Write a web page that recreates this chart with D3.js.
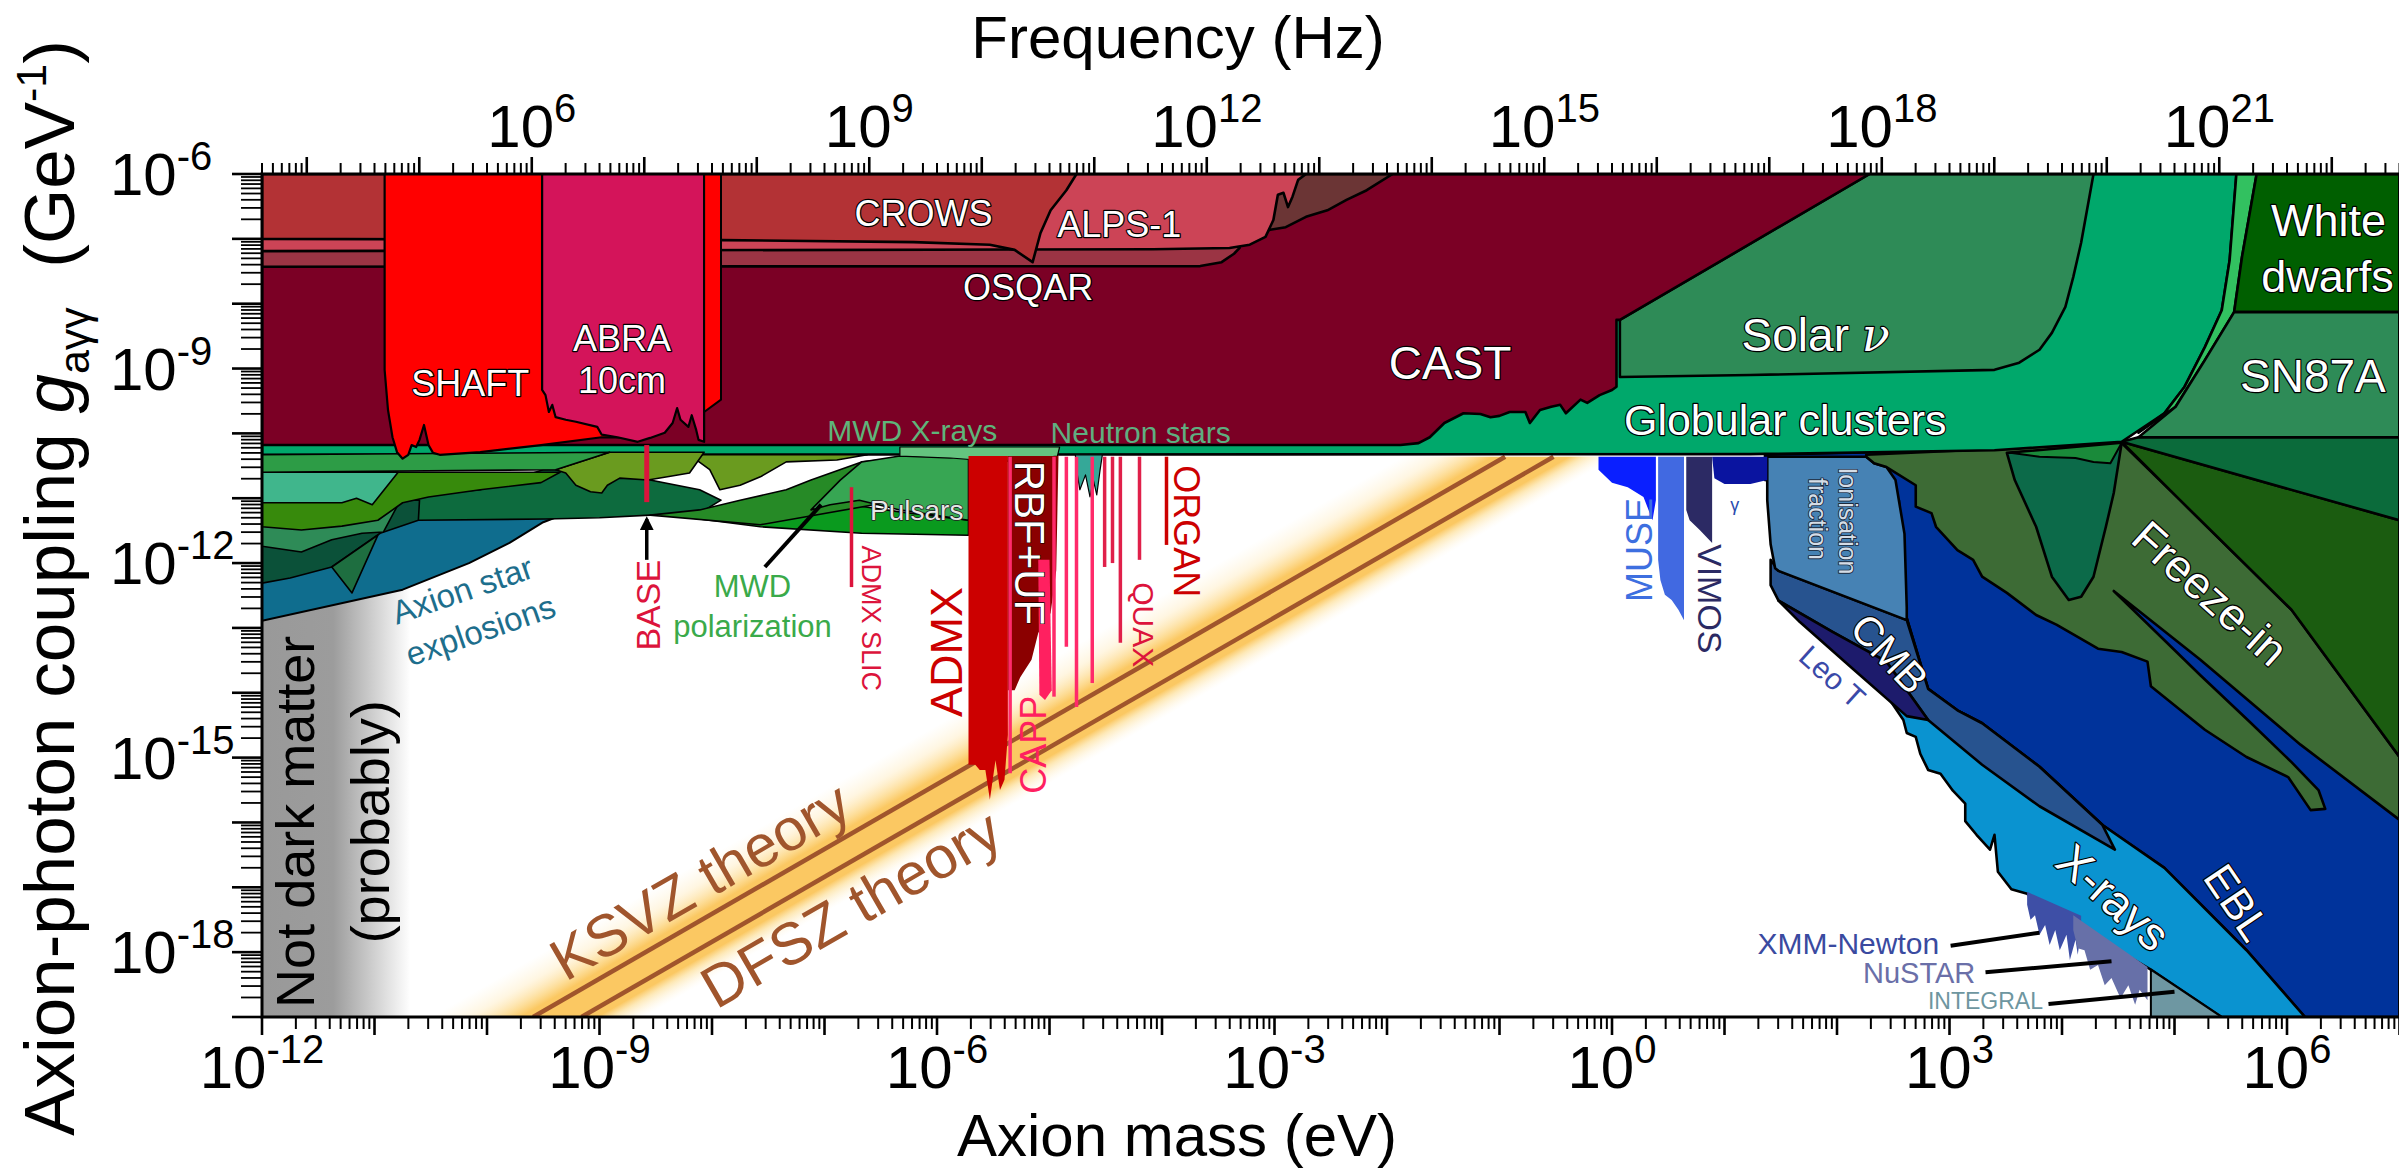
<!DOCTYPE html>
<html><head><meta charset="utf-8">
<script src="https://cdn.jsdelivr.net/npm/d3@7"></script>
<style>
html,body{margin:0;padding:0;background:#fff;}
svg{display:block;}
text{font-family:"Liberation Sans",Arial,Helvetica,sans-serif;}
</style></head><body>
<svg id="chart" width="2399" height="1170"></svg>
<script>
// ===================== DATA =====================
// every vertex is [log10(mass / eV), log10(g_agg / GeV^-1)]
const massDomain = [1e-12, 1e7];
const couplingDomain = [1e-19, 1e-6];
const HZ_PER_EV = 4.0e15;
const massTickLabels = [-12, -9, -6, -3, 0, 3, 6];
const couplingTickLabels = [-6, -9, -12, -15, -18];
const freqTickLabels = [6, 9, 12, 15, 18, 21];

// light-shining-through-wall / helioscopes / haloscopes at the top
const CAST = [[-12,-6],[2.29,-6],[0.07,-8.25],[0.04,-8.25],[0.04,-9.28],[0,-9.33],[-0.11,-9.41],[-0.22,-9.53],[-0.28,-9.48],[-0.41,-9.69],[-0.46,-9.56],[-0.54,-9.59],[-0.64,-9.64],[-0.73,-9.84],[-0.77,-9.67],[-0.91,-9.67],[-1.00,-9.73],[-1.08,-9.75],[-1.17,-9.70],[-1.32,-9.69],[-1.49,-9.84],[-1.62,-10.06],[-1.72,-10.15],[-1.88,-10.18],[-12,-10.18]];
const OSQAR = [[-12,-6],[-12,-7.43],[-3.66,-7.42],[-3.47,-7.36],[-3.36,-7.23],[-3.31,-7.14],[-3.31,-6]];
const TOKYO = [[-3.31,-6],[-3.31,-7.02],[-3.04,-6.86],[-2.90,-6.82],[-2.72,-6.66],[-2.53,-6.56],[-2.36,-6.40],[-2.18,-6.25],[-1.95,-6]];
const ALPS1 = [[-12,-6],[-12,-7.19],[-4.08,-7.16],[-3.40,-7.14],[-3.22,-7.09],[-3.08,-6.97],[-3.01,-6.71],[-2.97,-6.32],[-2.92,-6.29],[-2.88,-6.51],[-2.84,-6.35],[-2.79,-6.09],[-2.72,-6]];
const CROWS = [[-12,-6],[-12,-7.00],[-7.91,-7.02],[-6.21,-7.05],[-5.53,-7.09],[-5.31,-7.17],[-5.15,-7.36],[-5.08,-6.91],[-4.99,-6.56],[-4.85,-6.25],[-4.76,-6]];
const SHAFT = [[-10.91,-6],[-10.91,-9.02],[-10.88,-9.64],[-10.84,-10.06],[-10.80,-10.29],[-10.75,-10.39],[-10.70,-10.33],[-10.67,-10.18],[-10.63,-10.21],[-10.60,-10.10],[-10.56,-9.87],[-10.52,-10.18],[-10.48,-10.30],[-10.42,-10.33],[-10.06,-10.29],[-9.52,-10.18],[-8.98,-10.06],[-8.82,-10.06],[-8.82,-6]];
const ABRA = [[-9.51,-6],[-9.51,-9.33],[-9.48,-9.41],[-9.45,-9.67],[-9.42,-9.56],[-9.39,-9.75],[-9.30,-9.79],[-9.21,-9.82],[-9.02,-9.90],[-8.98,-10.02],[-8.84,-10.06],[-8.66,-10.13],[-8.55,-10.07],[-8.42,-9.99],[-8.35,-9.84],[-8.31,-9.61],[-8.28,-9.79],[-8.21,-9.90],[-8.18,-9.72],[-8.14,-9.95],[-8.12,-10.10],[-8.07,-10.13],[-8.07,-6]];
const RED_STRIP = [[-8.07,-6],[-7.92,-6],[-7.92,-9.48],[-8.07,-9.67]];
const ADMX = [[-5.72,-10.35],[-5.37,-10.35],[-5.37,-14.65],[-5.40,-15.34],[-5.44,-15.50],[-5.48,-15.04],[-5.53,-15.65],[-5.57,-15.19],[-5.62,-15.19],[-5.66,-15.11],[-5.72,-15.11]];
const RBF_UF = [[-5.37,-10.35],[-4.92,-10.35],[-4.94,-12.11],[-4.99,-12.77],[-5.10,-13.08],[-5.16,-13.49],[-5.26,-13.76],[-5.31,-13.96],[-5.37,-13.96]];
const CAPP = [[-5.10,-11.95],[-5.00,-11.95],[-4.98,-13.96],[-5.04,-14.11],[-5.09,-14.03]];
// thin haloscope exclusions: [log m, log g top, log g bottom]
const haloLinesPink = [[-5.35,-10.36,-15.24],[-4.96,-10.36,-14.06],[-4.85,-10.36,-13.29],[-4.76,-10.36,-14.22],[-4.62,-10.36,-13.85]];
const haloLinesRed = [[-4.51,-10.36,-12.06],[-4.44,-10.36,-12.00],[-4.37,-10.36,-13.23],[-4.20,-10.36,-11.95],[-3.96,-10.36,-11.72]];
const baseLine = [[-8.58,-10.18],[-8.58,-11.06]];
const slicLine = [[-6.76,-10.83],[-6.76,-12.37]];

// astrophysics, top
const GC = [[-12,-6],[5.55,-6],[5.49,-7.33],[5.42,-8.10],[5.27,-8.67],[5.09,-9.28],[4.91,-9.69],[4.65,-9.99],[4.53,-10.13],[3.40,-10.26],[1.23,-10.32],[-12,-10.33]];
const SOLAR_NU = [[0.07,-8.25],[2.29,-6],[4.28,-6],[4.17,-7.06],[4.10,-7.59],[4.03,-8.05],[3.91,-8.45],[3.80,-8.71],[3.62,-8.91],[3.40,-9.02],[1.23,-9.10],[0.07,-9.13]];
const HB_STRIP = [[5.55,-6],[5.73,-6],[5.60,-7.28],[5.53,-8.13],[5.27,-8.87],[5.01,-9.59],[4.68,-9.99],[4.91,-9.69],[5.09,-9.28],[5.27,-8.67],[5.42,-8.10],[5.49,-7.33]];
const WHITE_DWARFS = [[5.73,-6],[7,-6],[7,-8.13],[5.53,-8.13],[5.60,-7.28]];
const SN87A = [[5.53,-8.13],[7,-8.13],[7,-10.06],[4.68,-10.06],[5.01,-9.59],[5.27,-8.87]];

// low-mass astrophysical bounds under the globular-cluster line
const AXION_STAR = [[-12,-11.03],[-9.26,-11.03],[-9.26,-11.21],[-9.50,-11.37],[-9.80,-11.69],[-10.16,-12.00],[-10.75,-12.41],[-12,-12.89]];
const PULSARS = [[-8.25,-11.29],[-7.57,-11.44],[-6.67,-11.54],[-5.72,-11.57],[-5.72,-11.34],[-6.33,-11.21],[-6.77,-11.10],[-7.22,-11.10],[-7.66,-11.21],[-8.11,-11.24]];
const LM_BLOB = [[-10.77,-10.98],[-10.06,-10.87],[-9.50,-10.56],[-9.00,-10.56],[-8.55,-10.72],[-8.11,-10.87],[-7.92,-11.03],[-8.11,-11.23],[-8.55,-11.26],[-9.00,-11.30],[-9.48,-11.32],[-10.61,-11.34]];
const LM_FOREST = [[-8.55,-11.26],[-8.11,-11.18],[-7.75,-11.03],[-7.34,-10.87],[-7.12,-10.72],[-6.67,-10.44],[-6.33,-10.38],[-6.33,-11.03],[-7.57,-11.41]];
const MWD_POL = [[-6.67,-10.44],[-6.33,-10.35],[-5.72,-10.35],[-5.72,-11.34],[-6.33,-11.18],[-6.69,-11.03],[-6.95,-11.10],[-7.12,-11.18],[-6.86,-10.72]];
const LM_DARK = [[-12,-11.03],[-10.60,-11.03],[-10.61,-11.34],[-10.95,-11.54],[-11.38,-12.06],[-11.75,-12.23],[-12,-12.31]];
const LM_WEDGE = [[-11.38,-12.06],[-11.20,-12.46],[-10.97,-11.57]];
const LM_SEA = [[-12,-11.03],[-10.77,-11.03],[-10.92,-11.52],[-11.11,-11.54],[-11.38,-11.64],[-11.65,-11.83],[-12,-11.74]];
const LM_GREEN = [[-12,-10.60],[-9.35,-10.60],[-9.52,-10.76],[-10.06,-10.87],[-10.52,-10.98],[-10.75,-11.07],[-10.97,-11.34],[-11.29,-11.43],[-11.65,-11.49],[-12,-11.44]];
const LM_TEAL = [[-12,-10.60],[-10.79,-10.60],[-11.02,-11.10],[-11.16,-11.00],[-11.29,-11.07],[-12,-11.07]];
const OLIVE_B = [[-8.20,-10.33],[-8.02,-10.56],[-7.93,-10.87],[-7.75,-10.80],[-7.57,-10.67],[-7.34,-10.44],[-6.89,-10.41],[-6.62,-10.33]];
const OLIVE_A = [[-9.39,-10.56],[-9.30,-10.61],[-9.21,-10.80],[-9.08,-10.90],[-8.98,-10.92],[-8.93,-10.80],[-8.82,-10.69],[-8.57,-10.72],[-8.37,-10.66],[-8.20,-10.61],[-8.07,-10.29],[-8.91,-10.29]];
const LM_BAND = [[-12,-10.33],[-8.91,-10.29],[-9.39,-10.56],[-12,-10.60]];
const MWD_XRAY = [[-6.33,-10.21],[-4.91,-10.21],[-4.93,-10.35],[-5.44,-10.44],[-5.88,-10.38],[-6.33,-10.35]];
const NEUTRON_STARS = [[-4.77,-10.33],[-4.53,-10.33],[-4.55,-10.56],[-4.58,-10.95],[-4.61,-10.72],[-4.64,-10.98],[-4.68,-10.64],[-4.73,-10.87],[-4.76,-10.56]];

// telescopes and cosmology, right side
const EBL = [[1.36,-10.33],[7,-10.10],[7,-19],[6.16,-19],[5.64,-17.97],[4.91,-16.70],[4.36,-16.04],[3.80,-15.14],[3.29,-14.47],[3.07,-14.27],[2.81,-13.94],[2.62,-12.85],[2.55,-11.03],[1.36,-10.72]];
const XRAYS = [[2.62,-12.85],[2.81,-13.94],[3.07,-14.27],[3.29,-14.47],[3.80,-15.14],[4.36,-16.04],[4.91,-16.70],[5.64,-17.97],[6.16,-19],[5.42,-19],[4.79,-18.27],[4.34,-17.81],[3.98,-17.43],[3.69,-17.10],[3.55,-17.03],[3.43,-16.76],[3.40,-16.19],[3.36,-16.42],[3.24,-16.19],[3.14,-15.98],[3.14,-15.71],[3.03,-15.51],[2.92,-15.25],[2.81,-15.19],[2.74,-14.94],[2.70,-14.68],[2.62,-14.62],[2.59,-14.42],[2.47,-14.11]];
const XMM = [[3.69,-17.07],[4.17,-17.44],[4.17,-17.66],[4.14,-18.04],[4.12,-17.81],[4.07,-18.12],[4.04,-17.73],[3.98,-17.97],[3.94,-17.66],[3.89,-17.89],[3.85,-17.58],[3.80,-17.73],[3.76,-17.43],[3.72,-17.50],[3.69,-17.27]];
const NUSTAR = [[4.10,-17.43],[4.76,-18.23],[4.76,-18.74],[4.69,-18.58],[4.65,-18.81],[4.59,-18.51],[4.52,-18.71],[4.44,-18.40],[4.38,-18.51],[4.32,-18.20],[4.25,-18.27],[4.20,-17.97],[4.14,-17.94],[4.10,-17.66]];
const INTEGRAL = [[4.79,-18.27],[5.42,-19],[4.79,-19]];
const CMB = [[1.41,-11.95],[1.48,-12.12],[2.62,-12.88],[2.81,-13.94],[3.07,-14.27],[3.29,-14.47],[3.80,-15.14],[4.36,-16.04],[4.47,-16.42],[3.80,-15.75],[3.29,-15.11],[2.81,-14.42],[2.44,-13.52],[1.96,-13.06],[1.48,-12.58],[1.41,-12.34]];
const LEO_T = [[1.48,-12.58],[1.96,-13.06],[2.44,-13.52],[2.81,-14.42],[2.62,-14.36],[2.14,-13.63],[1.67,-12.91]];
const IONISATION = [[1.38,-10.36],[2.26,-10.36],[2.33,-10.46],[2.44,-10.52],[2.52,-10.72],[2.55,-11.03],[2.60,-11.55],[2.62,-12.69],[2.62,-12.88],[1.48,-12.12],[1.45,-12.08],[1.41,-11.71],[1.38,-11.03]];
const TELESCOPE_BLUE = [[0.89,-10.36],[1.38,-10.36],[1.38,-10.72],[1.23,-10.78],[1.00,-10.78],[0.91,-10.69]];
const MUSE = [[-0.12,-10.36],[0.39,-10.36],[0.39,-11.03],[0.36,-11.34],[0.28,-10.98],[0.14,-10.83],[0,-10.76],[-0.12,-10.56]];
const MUSE_FAINT = [[0.41,-10.36],[0.64,-10.36],[0.64,-12.88],[0.59,-12.72],[0.53,-12.57],[0.47,-12.49],[0.43,-12.26],[0.41,-11.95]];
const VIMOS = [[0.66,-10.36],[0.89,-10.36],[0.89,-11.69],[0.78,-11.49],[0.69,-11.34],[0.66,-11.18]];
const FREEZE_IN = [[2.26,-10.33],[4.53,-10.15],[5.05,-11.03],[6.04,-12.72],[7,-14.99],[7,-15.96],[6.12,-14.80],[5.23,-13.49],[4.46,-12.43],[4.78,-12.97],[5.23,-13.73],[5.67,-14.45],[6.04,-15.07],[6.28,-15.50],[6.34,-15.79],[6.21,-15.81],[6.01,-15.30],[5.64,-14.99],[5.27,-14.57],[4.79,-13.90],[4.76,-13.52],[4.53,-13.37],[4.32,-13.32],[4.17,-13.17],[3.95,-12.95],[3.77,-12.80],[3.51,-12.46],[3.29,-12.21],[3.21,-11.95],[3.07,-11.80],[2.88,-11.44],[2.84,-11.23],[2.70,-11.13],[2.70,-10.80],[2.44,-10.52],[2.33,-10.46],[2.26,-10.36]];
const DARK_GREEN_WEDGE = [[4.53,-10.13],[7,-11.34],[7,-14.99],[6.04,-12.72],[5.05,-11.03]];
const TOP_GREEN_WEDGE = [[4.53,-10.13],[4.68,-10.06],[7,-10.06],[7,-11.34]];
const V_SHAPE = [[3.51,-10.30],[4.53,-10.15],[4.46,-10.92],[4.39,-11.44],[4.28,-12.21],[4.17,-12.52],[4.06,-12.57],[3.91,-12.21],[3.77,-11.44],[3.58,-10.72]];
const V_CAP = [[3.54,-10.30],[4.53,-10.15],[4.43,-10.46],[4.28,-10.44],[4.12,-10.38],[3.80,-10.36]];

// QCD axion lines and band
const KSVZ = [[-9.59,-19],[-0.95,-10.36]];
const DFSZ = [[-9.16,-19],[-0.52,-10.36]];
const QCD_BAND_UPPER = [[-10.7,-19.2],[-1.86,-10.36]];   // g = 10^-8.5 m
const QCD_BAND_LOWER = [[-8.8,-19.2],[0.04,-10.36]];     // g = 10^-10.4 m
const NOT_DM_BOX = [[-12,-19],[-10.68,-12.4]];

// pointer lines
const pointers = [
  [[-7.53,-12.06],[-7.03,-11.10]],
  [[3.01,-17.90],[3.80,-17.70]],
  [[3.32,-18.31],[4.44,-18.14]],
  [[3.88,-18.80],[5.00,-18.61]]
];
const baseArrow = [[-8.58,-11.95],[-8.58,-11.32]];

const labels = [
 {t:'CROWS',m:-6.12,g:-6.60,size:36},
 {t:'ALPS-1',m:-4.38,g:-6.77,size:36},
 {t:'OSQAR',m:-5.19,g:-7.74,size:36},
 {t:'SHAFT',m:-10.15,g:-9.22,size:36},
 {t:'ABRA',m:-8.80,g:-8.53,size:36},
 {t:'10cm',m:-8.80,g:-9.18,size:36},
 {t:'CAST',m:-1.44,g:-8.90,size:46},
 {t:'Solar ',nu:true,m:1.81,g:-8.48,size:46},
 {t:'Globular clusters',m:1.54,g:-9.79,size:43},
 {t:'White',m:6.37,g:-6.71,size:45},
 {t:'dwarfs',m:6.36,g:-7.57,size:45},
 {t:'SN87A',m:6.23,g:-9.10,size:46},
 {t:'Freeze-in',m:5.32,g:-12.46,size:45,rot:42},
 {t:'EBL',m:5.56,g:-17.23,size:43,rot:56},
 {t:'X-rays',m:4.46,g:-17.15,size:46,rot:42},
 {t:'CMB',m:2.47,g:-13.39,size:41,rot:47},
 {t:'Leo T',m:1.96,g:-13.75,size:30,rot:42,fill:'#3a49a8',plain:true},
 {t:'Ionisation',m:2.10,g:-11.35,size:25,rot:90,fill:'#d5dde7',stroke:'#1c2a3c',sw:1.8},
 {t:'fraction',m:1.83,g:-11.32,size:25,rot:90,fill:'#d5dde7',stroke:'#1c2a3c',sw:1.8},
 {t:'MUSE',m:0.24,g:-11.80,size:36,rot:-90,fill:'#3d6fe0',plain:true},
 {t:'VIMOS',m:0.87,g:-12.55,size:34,rot:90,fill:'#2b2a63',plain:true},
 {t:'γ',m:1.09,g:-11.10,size:18,fill:'#2a4cae',plain:true},
 {t:'RBF+UF',m:-5.17,g:-11.69,size:42,rot:90,sw:1.2},
 {t:'ADMX',m:-5.92,g:-13.37,size:45,rot:-90,fill:'#cc0000',plain:true},
 {t:'CAPP',m:-5.15,g:-14.80,size:36,rot:-90,fill:'#ff2060',plain:true},
 {t:'QUAX',m:-4.16,g:-12.95,size:30,rot:90,fill:'#dc143c',plain:true},
 {t:'ORGAN',m:-3.78,g:-11.51,size:36,rot:90,fill:'#cc0000',plain:true},
 {t:'ADMX SLIC',m:-6.58,g:-12.85,size:27,rot:90,fill:'#dc143c',plain:true},
 {t:'BASE',m:-8.57,g:-12.65,size:34,rot:-90,fill:'#dc143c',plain:true},
 {t:'MWD X-rays',m:-6.22,g:-9.95,size:30,fill:'#5fb47a',plain:true},
 {t:'Neutron stars',m:-4.19,g:-9.98,size:30,fill:'#5fae80',plain:true},
 {t:'Pulsars',m:-6.18,g:-11.18,size:28,fill:'#e8e8e8',stroke:'#222',sw:1.6},
 {t:'MWD',m:-7.64,g:-12.35,size:31,fill:'#3aaa4a',plain:true},
 {t:'polarization',m:-7.64,g:-12.97,size:31,fill:'#3aaa4a',plain:true},
 {t:'Axion star',m:-10.22,g:-12.41,size:33,rot:-19,fill:'#1d6e8c',plain:true},
 {t:'explosions',m:-10.06,g:-13.03,size:33,rot:-19,fill:'#1d6e8c',plain:true},
 {t:'Not dark matter',m:-11.71,g:-15.99,size:54,rot:-90,fill:'#000',plain:true},
 {t:'(probably)',m:-11.04,g:-15.99,size:54,rot:-90,fill:'#000',plain:true},
 {t:'KSVZ theory',m:-8.11,g:-16.89,size:59,rot:-30,fill:'#a0552c',plain:true},
 {t:'DFSZ theory',m:-6.77,g:-17.32,size:59,rot:-30,fill:'#a0552c',plain:true},
 {t:'XMM-Newton',m:2.10,g:-17.86,size:30,fill:'#3a4aa0',plain:true},
 {t:'NuSTAR',m:2.73,g:-18.31,size:29,fill:'#6a6fa8',plain:true},
 {t:'INTEGRAL',m:3.32,g:-18.75,size:23,fill:'#6e96a0',plain:true}
];

// ===================== DRAWING =====================
const svg = d3.select('#chart');
const x = d3.scaleLog().domain(massDomain).range([262, 2399.5]);
const y = d3.scaleLog().domain(couplingDomain).range([1017, 174]);
const xf = d3.scaleLog().domain(massDomain.map(m => m * HZ_PER_EV)).range(x.range());
const X0 = x.range()[0], X1 = x.range()[1], Y0 = y.range()[1], Y1 = y.range()[0];

const px = d => [x(10 ** d[0]), y(10 ** d[1])];
const lineGen = d3.line().x(d => x(10 ** d[0])).y(d => y(10 ** d[1]));

const defs = svg.append('defs');
defs.append('clipPath').attr('id', 'plotclip').append('rect')
  .attr('x', X0).attr('y', Y0).attr('width', X1 - X0).attr('height', Y1 - Y0);
const plot = svg.append('g').attr('clip-path', 'url(#plotclip)');

// "not dark matter" grey box
const ndm = defs.append('linearGradient').attr('id', 'ndm').attr('x1', 0).attr('x2', 1).attr('y1', 0).attr('y2', 0);
[[0, '#999999', 1], [0.48, '#9c9c9c', 1], [0.75, '#cfcfcf', 1], [1, '#ffffff', 1]].forEach(s =>
  ndm.append('stop').attr('offset', s[0]).attr('stop-color', s[1]).attr('stop-opacity', s[2]));
{
  const a = px(NOT_DM_BOX[0]), b = px(NOT_DM_BOX[1]);
  plot.append('rect').attr('x', a[0]).attr('y', b[1]).attr('width', b[0] - a[0]).attr('height', a[1] - b[1]).attr('fill', 'url(#ndm)');
}

// QCD band with perpendicular gradient
{
  const A = px(QCD_BAND_UPPER[0]);
  const L0 = px(QCD_BAND_LOWER[0]), L1 = px(QCD_BAND_LOWER[1]);
  const dx = L1[0] - L0[0], dy = L1[1] - L0[1], n = Math.hypot(dx, dy);
  const ux = dx / n, uy = dy / n;
  const t = (A[0] - L0[0]) * ux + (A[1] - L0[1]) * uy;
  const B = [L0[0] + t * ux, L0[1] + t * uy];
  const g = defs.append('linearGradient').attr('id', 'qcd').attr('gradientUnits', 'userSpaceOnUse')
    .attr('x1', A[0]).attr('y1', A[1]).attr('x2', B[0]).attr('y2', B[1]);
  [[0, '#fff1d0', 0], [0.18, '#ffedc4', 0.5], [0.34, '#fdd98b', 0.9], [0.42, '#fbc862', 1],
   [0.78, '#fbc862', 1], [0.85, '#fde3a5', 0.8], [1, '#fff6e0', 0]].forEach(s =>
    g.append('stop').attr('offset', s[0]).attr('stop-color', s[1]).attr('stop-opacity', s[2]));
  const bandPoly = QCD_BAND_UPPER.concat(QCD_BAND_LOWER.slice().reverse());
  plot.append('path').attr('d', lineGen(bandPoly) + 'Z').attr('fill', 'url(#qcd)');
  [KSVZ, DFSZ].forEach(l => plot.append('path').attr('d', lineGen(l)).attr('stroke', '#a0552c').attr('stroke-width', 4.5).attr('fill', 'none'));
}

function region(data, fill, sw = 2.6, stroke = '#000') {
  const p = plot.append('path').attr('d', lineGen(data) + 'Z').attr('fill', fill)
    .attr('stroke-linejoin', 'round');
  if (sw > 0) p.attr('stroke', stroke).attr('stroke-width', sw); else p.attr('stroke', 'none');
}

// right side (drawn first, greens over them)
region(EBL, '#00339b');
region(XRAYS, '#0a93d0');
region(XMM, '#3e4fa6', 0);
region(NUSTAR, '#6770a8', 0);
region(INTEGRAL, '#6e97a2', 2);
region(CMB, '#27538f');
region(LEO_T, '#1d1b6c');
region(IONISATION, '#4682b4');
region(TELESCOPE_BLUE, '#0a14a0', 0);
region(MUSE_FAINT, '#4169e1', 0);
region(MUSE, '#0a1fff', 0);
region(VIMOS, '#2c2a64', 0);
region(FREEZE_IN, '#3d6b35');
region(DARK_GREEN_WEDGE, '#1b5c10');
region(TOP_GREEN_WEDGE, '#0b6b3b');
region(V_SHAPE, '#0c6a49');
region(V_CAP, '#1a8a3a', 2);

// stellar bounds
region(GC, '#00a86b');
region(SOLAR_NU, '#2e8b57');
region(HB_STRIP, '#32c160');
region(WHITE_DWARFS, '#005f00');
region(SN87A, '#2e8b57');

// low-mass zone
region(AXION_STAR, '#0f6d8e', 2);
region(PULSARS, '#0a9a1e', 1.6);
region(LM_BLOB, '#0d6b3e', 1.6);
region(LM_FOREST, '#268a26', 1.6);
region(MWD_POL, '#37a653', 1.6);
region(LM_DARK, '#0b5139', 1.6);
region(LM_WEDGE, '#1e6e40', 1.6);
region(LM_SEA, '#2e8b57', 1.6);
region(LM_GREEN, '#378a0c', 1.6);
region(LM_TEAL, '#40b68c', 1.6);
region(OLIVE_B, '#6a9b1f', 1.6);
region(OLIVE_A, '#6a9b1f', 1.6);
region(LM_BAND, '#2d9c46', 1.6);
region(MWD_XRAY, '#64c47f', 1.2);
region(NEUTRON_STARS, '#35a898', 1.2);

// top experiments
region(CAST, '#7b0025');
region(OSQAR, '#9b3444');
region(TOKYO, '#6b3535');
region(ALPS1, '#cc4456');
region(CROWS, '#b33235');
region(SHAFT, '#ff0000', 2.2);
region(ABRA, '#d4145a', 2.2);
region(RED_STRIP, '#ff0000', 2);
region(ADMX, '#cc0000', 0);
region(RBF_UF, '#8b0000', 0);
region(CAPP, '#ff2060', 0);

function vline(d, color, w) {
  plot.append('line').attr('x1', x(10 ** d[0])).attr('x2', x(10 ** d[0]))
    .attr('y1', y(10 ** d[1])).attr('y2', y(10 ** d[2])).attr('stroke', color).attr('stroke-width', w);
}
haloLinesPink.forEach(d => vline(d, '#ff2a6a', 3.5));
haloLinesRed.forEach((d, i) => vline(d, i === 4 ? '#cc0000' : '#e0204a', 3.5));
plot.append('path').attr('d', lineGen(baseLine)).attr('stroke', '#dc143c').attr('stroke-width', 5);
plot.append('path').attr('d', lineGen(slicLine)).attr('stroke', '#dc143c').attr('stroke-width', 3.5);

// pointers
const ann = svg.append('g');
pointers.forEach(p => ann.append('path').attr('d', lineGen(p)).attr('stroke', '#000').attr('stroke-width', 4).attr('fill', 'none'));
defs.append('marker').attr('id', 'arr').attr('viewBox', '0 0 10 10').attr('refX', 8).attr('refY', 5)
  .attr('markerWidth', 4).attr('markerHeight', 4).attr('orient', 'auto')
  .append('path').attr('d', 'M0,0L10,5L0,10Z').attr('fill', '#000');
ann.append('path').attr('d', lineGen(baseArrow)).attr('stroke', '#000').attr('stroke-width', 3.5).attr('marker-end', 'url(#arr)');

// labels
labels.forEach(a => {
  const [X, Y] = px([a.m, a.g]);
  const t = ann.append('text').attr('transform', `translate(${X},${Y}) rotate(${a.rot || 0})`)
    .attr('text-anchor', 'middle').attr('dy', '0.36em').attr('font-size', a.size)
    .attr('fill', a.fill || '#fff');
  if (!a.plain) t.attr('stroke', a.stroke || '#000').attr('stroke-width', a.sw || 2.4)
    .attr('paint-order', 'stroke').attr('stroke-linejoin', 'round');
  t.append('tspan').text(a.t);
  if (a.nu) t.append('tspan').attr('font-family', '"DejaVu Serif","Liberation Serif",serif').attr('font-style', 'italic').text('ν');
});

// ===================== AXES =====================
const axes = svg.append('g').attr('stroke', '#000');
function tick(x1, y1, x2, y2, w) { axes.append('line').attr('x1', x1).attr('y1', y1).attr('x2', x2).attr('y2', y2).attr('stroke-width', w); }
const mLo = Math.log10(massDomain[0]), mHi = Math.log10(massDomain[1]);
for (let n = mLo; n <= mHi; n++) for (let k = 1; k < 10; k++) {
  const m = k * 10 ** n; if (m > massDomain[1] * 1.0001) break;
  const X = x(m); tick(X, Y1, X, Y1 + (k === 1 ? 18 : 12), k === 1 ? 2.6 : 2);
}
const fLo = massDomain[0] * HZ_PER_EV, fHi = massDomain[1] * HZ_PER_EV;
for (let n = Math.floor(Math.log10(fLo)); n <= Math.ceil(Math.log10(fHi)); n++) for (let k = 1; k < 10; k++) {
  const f = k * 10 ** n; if (f < fLo || f > fHi) continue;
  const X = xf(f); tick(X, Y0, X, Y0 - (k === 1 ? 17 : 11), k === 1 ? 2.6 : 2);
}
const gLo = Math.log10(couplingDomain[0]), gHi = Math.log10(couplingDomain[1]);
for (let n = gLo; n <= gHi; n++) for (let k = 1; k < 10; k++) {
  const g = k * 10 ** n; if (g > couplingDomain[1] * 1.0001) break;
  const Y = y(g); tick(X0, Y, X0 - (k === 1 ? 30 : 21), Y, k === 1 ? 2.6 : 1.8);
}
svg.append('rect').attr('x', X0).attr('y', Y0).attr('width', X1 - X0).attr('height', Y1 - Y0)
  .attr('fill', 'none').attr('stroke', '#000').attr('stroke-width', 3);

const tl = svg.append('g').attr('fill', '#000');
function powText(X, Y, exp, anchor) {
  const t = tl.append('text').attr('x', X).attr('y', Y).attr('text-anchor', anchor).attr('font-size', 60);
  t.append('tspan').text('10');
  t.append('tspan').attr('font-size', 40).attr('dy', -25).text(exp);
}
massTickLabels.forEach(e => powText(x(10 ** e), 1088, String(e), 'middle'));
freqTickLabels.forEach(e => powText(xf(10 ** e), 147, String(e), 'middle'));
couplingTickLabels.forEach(e => powText(110, y(10 ** e) + 21, String(e), 'start'));

tl.append('text').attr('x', 1178).attr('y', 58).attr('text-anchor', 'middle').attr('font-size', 60).text('Frequency (Hz)');
tl.append('text').attr('x', 1177).attr('y', 1156).attr('text-anchor', 'middle').attr('font-size', 60).text('Axion mass (eV)');
{
  const t = tl.append('text').attr('transform', 'translate(74,588) rotate(-90)').attr('text-anchor', 'middle').attr('font-size', 71);
  t.append('tspan').text('Axion-photon coupling ');
  t.append('tspan').attr('font-style', 'italic').text('g');
  t.append('tspan').attr('font-size', 43).attr('dy', 15).text('aγγ');
  t.append('tspan').attr('dy', -15).text('\u00a0\u00a0(GeV');
  t.append('tspan').attr('font-size', 43).attr('dy', -28).text('-1');
  t.append('tspan').attr('dy', 28).text(')');
}
</script>
</body></html>
